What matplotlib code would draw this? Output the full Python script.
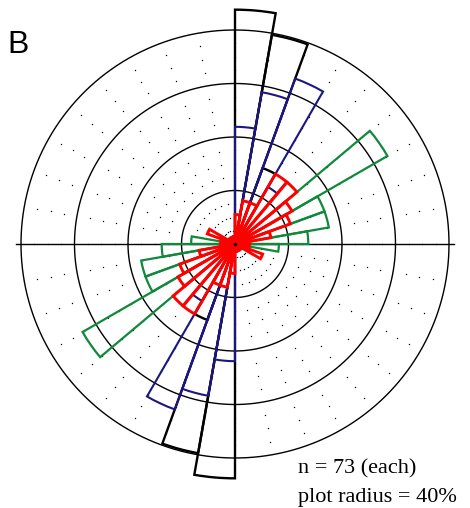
import numpy as np
import matplotlib
matplotlib.use("Agg")
import matplotlib.pyplot as plt

# bin starts (degrees clockwise from north), axial data -> mirrored at +180
bin_start = np.arange(0, 180, 10)

# percent of n per 10 degree bin (0-180)
black_pct = [43.8, 39.7, 15.1, 0, 0, 0, 0, 0, 0, 0, 0, 0, 0, 0, 0, 0, 0, 1.4]
navy_pct = [21.9, 28.8, 32.9, 12.3, 1.4, 0, 0, 0, 0, 0, 0, 0, 0, 0, 0, 0, 1.4, 1.4]
green_pct = [0, 0, 0, 1.4, 2.7, 32.9, 17.8, 17.8, 13.7, 8.2, 2.7, 1.4, 1.4, 0, 0, 0, 0, 0]
red_pct = [5.5, 8.2, 8.2, 15.1, 15.1, 12.3, 11.0, 6.8, 2.7, 1.4, 2.7, 5.5, 1.4, 1.4, 0, 1.4, 0, 1.4]

series = [
    (black_pct, "black", 1.7),
    (navy_pct, "#1c1683", 1.5),
    (green_pct, "#10893a", 1.6),
    (red_pct, "#ff0000", 2.1),
]

rings = [10, 20, 30, 40]

fig = plt.figure(figsize=(4.70, 5.08), dpi=100)
# centre of the rose at (235, 244) px, 40 % ring at 214 px
ax = fig.add_axes([(235 - 214) / 470, (264 - 214) / 508, 428 / 470, 428 / 508],
                  projection="polar")
ax.set_theta_zero_location("N")
ax.set_theta_direction(-1)
ax.set_ylim(0, 40)
ax.grid(False)
ax.set_xticks([])
ax.set_yticks([])
ax.spines["polar"].set_visible(False)
ax.patch.set_alpha(0)

# dotted background
dot_t, dot_r = np.meshgrid(np.deg2rad(np.arange(0, 360, 10)), np.arange(2.5, 40, 2.5))
keep = (dot_r % 10) != 0
ax.scatter(dot_t[keep], dot_r[keep], s=1.0, c="black", lw=0, zorder=1)

# rings
circ = np.linspace(0, 2 * np.pi, 400)
for r in rings:
    ax.plot(circ, np.full_like(circ, r), color="black", lw=1.0, zorder=2,
            clip_on=False)

# east-west line
ax.plot([np.pi / 2, np.pi / 2], [0, 41], color="black", lw=1.0, zorder=2,
        clip_on=False)
ax.plot([3 * np.pi / 2, 3 * np.pi / 2], [0, 41], color="black", lw=1.0, zorder=2,
        clip_on=False)

edges = np.deg2rad(np.concatenate([bin_start, bin_start + 180]))
for i, (vals, col, lw) in enumerate(series):
    v = np.array(vals + vals)
    m = v > 0
    ax.bar(edges[m], v[m], width=np.deg2rad(10), align="edge", fill=False,
           edgecolor=col, linewidth=lw, zorder=3 + i, clip_on=False)

ax.plot([0], [0], marker="o", ms=1.5, color="black", zorder=10)

fig.text(7 / 470, 1 - 53 / 508, "B", fontsize=23, family="Liberation Sans",
         ha="left", va="baseline")
fig.text(298 / 470, 1 - 473 / 508, "n = 73 (each)", fontsize=16,
         family="Liberation Serif", ha="left", va="baseline")
fig.text(298 / 470, 1 - 502 / 508, "plot radius = 40%", fontsize=16,
         family="Liberation Serif", ha="left", va="baseline")

fig.savefig("out.png", dpi=100)
